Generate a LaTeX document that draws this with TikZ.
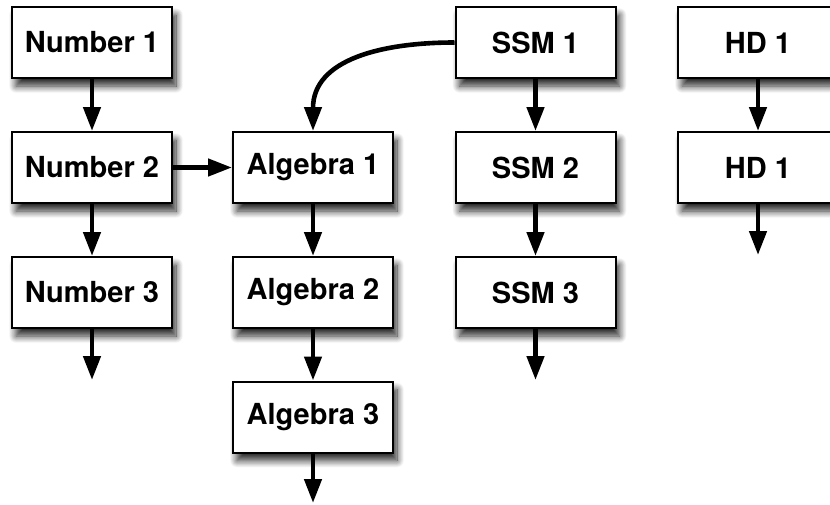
\documentclass[tikz,border=0pt]{standalone}
\usepackage{fontspec}
\setmainfont{TeX Gyre Heros}
\usetikzlibrary{arrows.meta,shadows.blur}
\begin{document}
\begin{tikzpicture}[x=1pt,y=-1pt,
  box/.style={draw=black, line width=2pt, fill=white, minimum width=160pt,
    minimum height=71pt, inner sep=0pt,
    font=\fontsize{29}{32}\selectfont\bfseries,
    blur shadow={shadow xshift=4pt, shadow yshift=-8pt, shadow blur radius=7pt, shadow blur steps=12, shadow opacity=85}},
  arr/.style={-{Triangle[length=24pt,width=17pt]}, line width=4.6pt}]
\useasboundingbox (0,0) rectangle (830,504);
\node[box] (n1) at (92,42.5) {Number 1};
\node[box] (n2) at (92,167.5) {Number 2};
\node[box] (n3) at (92,292.5) {Number 3};
\node[box] (a1) at (313,167.5) {Algebra 1};
\node[box] (a2) at (313,292.5) {Algebra 2};
\node[box] (a3) at (313,417) {Algebra 3};
\node[box] (s1) at (535.5,42.5) {SSM 1};
\node[box] (s2) at (535.5,167.5) {SSM 2};
\node[box] (s3) at (535.5,292.5) {SSM 3};
\node[box] (h1) at (758,42.5) {HD 1};
\node[box] (h2) at (758,167.5) {HD 1};
\coordinate (n3e) at (92,380);
\coordinate (a3e) at (313,503);
\coordinate (s3e) at (535.5,380);
\coordinate (h2e) at (758,255);
\draw[arr] (n1) -- (n2);
\draw[arr] (n2) -- (n3);
\draw[arr] (n3) -- (n3e);
\draw[arr] (n2) -- (a1);
\draw[arr] (a1) -- (a2);
\draw[arr] (a2) -- (a3);
\draw[arr] (a3) -- (a3e);
\draw[arr] (s1) -- (s2);
\draw[arr] (s2) -- (s3);
\draw[arr] (s3) -- (s3e);
\draw[arr] (h1) -- (h2);
\draw[arr] (h2) -- (h2e);
\draw[arr] (s1.west) to[out=180,in=90,looseness=1.1] (a1.north);
\end{tikzpicture}
\end{document}
